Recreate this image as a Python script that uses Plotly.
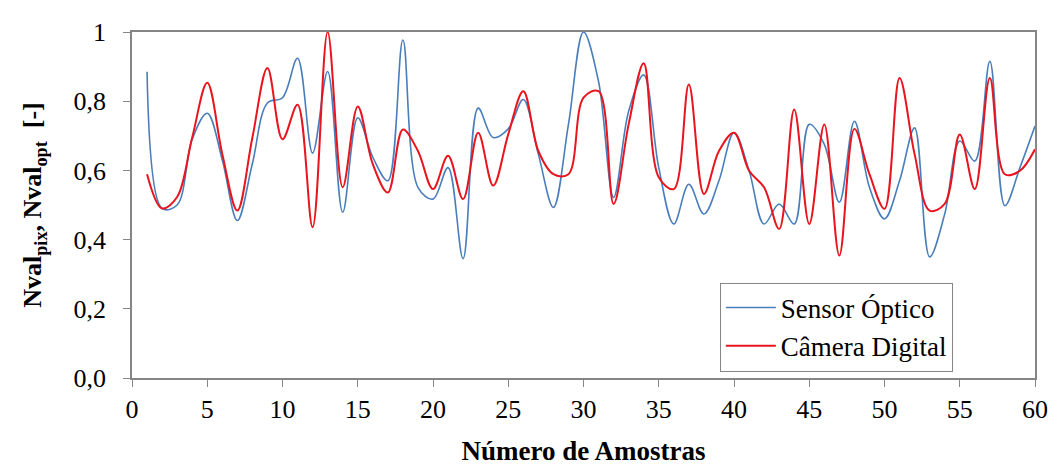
import plotly.graph_objects as go

amostras = list(range(1, 61))

sensor_optico = [
    0.885, 0.49, 0.50, 0.69, 0.765, 0.63, 0.455, 0.62, 0.795, 0.81,
    0.924, 0.65, 0.886, 0.479, 0.752, 0.638, 0.57, 0.977, 0.551, 0.517,
    0.608, 0.345, 0.78, 0.695, 0.72, 0.805, 0.647, 0.493, 0.733, 1.0,
    0.857, 0.522, 0.771, 0.876, 0.608, 0.445, 0.56, 0.474, 0.57, 0.709,
    0.60, 0.445, 0.503, 0.445, 0.733, 0.675, 0.508, 0.742, 0.551, 0.46,
    0.57, 0.723, 0.35, 0.474, 0.685, 0.627, 0.915, 0.498, 0.608, 0.728,
]

camera_digital = [
    0.589, 0.49, 0.523, 0.695, 0.853, 0.647, 0.484, 0.695, 0.896, 0.69,
    0.79, 0.436, 1.0, 0.551, 0.785, 0.618, 0.536, 0.718, 0.656, 0.546,
    0.642, 0.517, 0.709, 0.556, 0.704, 0.829, 0.656, 0.589, 0.589, 0.81,
    0.829, 0.503, 0.733, 0.91, 0.58, 0.546, 0.848, 0.532, 0.656, 0.709,
    0.599, 0.551, 0.431, 0.776, 0.445, 0.733, 0.354, 0.72, 0.589, 0.489,
    0.867, 0.647, 0.484, 0.503, 0.704, 0.546, 0.867, 0.589, 0.599, 0.661,
]

y_tickvals = [0, 0.2, 0.4, 0.6, 0.8, 1.0]
y_ticktext = ["0,0", "0,2", "0,4", "0,6", "0,8", "1"]
x_tickvals = list(range(0, 61, 5))

FONT = "Liberation Serif, Times New Roman, serif"
AXIS_COLOR = "#868686"

fig = go.Figure()
fig.add_trace(go.Scatter(
    x=amostras, y=sensor_optico, mode="lines", name="Sensor Óptico",
    line=dict(color="#4a7ebb", width=1.6, shape="spline", smoothing=1.0),
))
fig.add_trace(go.Scatter(
    x=amostras, y=camera_digital, mode="lines", name="Câmera Digital",
    line=dict(color="#e8141e", width=2, shape="spline", smoothing=1.0),
))

fig.update_layout(
    width=1060, height=473,
    margin=dict(l=132, r=18, t=32, b=93),
    paper_bgcolor="white", plot_bgcolor="white",
    font=dict(family=FONT, size=26, color="black"),
    showlegend=True,
    legend=dict(
        x=0.651, y=0.276, xanchor="left", yanchor="top",
        bgcolor="white", bordercolor=AXIS_COLOR, borderwidth=1,
        font=dict(family=FONT, size=27, color="black"),
        itemwidth=50, tracegroupgap=0,
    ),
    xaxis=dict(
        range=[0, 60], tickvals=x_tickvals, ticktext=[str(v) for v in x_tickvals],
        showgrid=False, zeroline=False,
        showline=True, linecolor=AXIS_COLOR, linewidth=1.5, mirror=True,
        ticks="outside", ticklen=7, tickcolor=AXIS_COLOR,
        tickfont=dict(family=FONT, size=26),
        ticklabelstandoff=0,
        title=dict(text="<b>Número de Amostras</b>", font=dict(family=FONT, size=27), standoff=18),
    ),
    yaxis=dict(
        range=[0, 1], tickvals=y_tickvals, ticktext=y_ticktext,
        showgrid=False, zeroline=False,
        showline=True, linecolor=AXIS_COLOR, linewidth=1.5, mirror=True,
        ticks="outside", ticklen=7, tickcolor=AXIS_COLOR,
        tickfont=dict(family=FONT, size=26),
        ticklabelstandoff=12,
        title=dict(text="<b>Nval<sub>pix</sub>, Nval<sub>opt</sub>  [-]</b>", font=dict(family=FONT, size=26), standoff=24),
    ),
)

fig.write_html("out.html")
